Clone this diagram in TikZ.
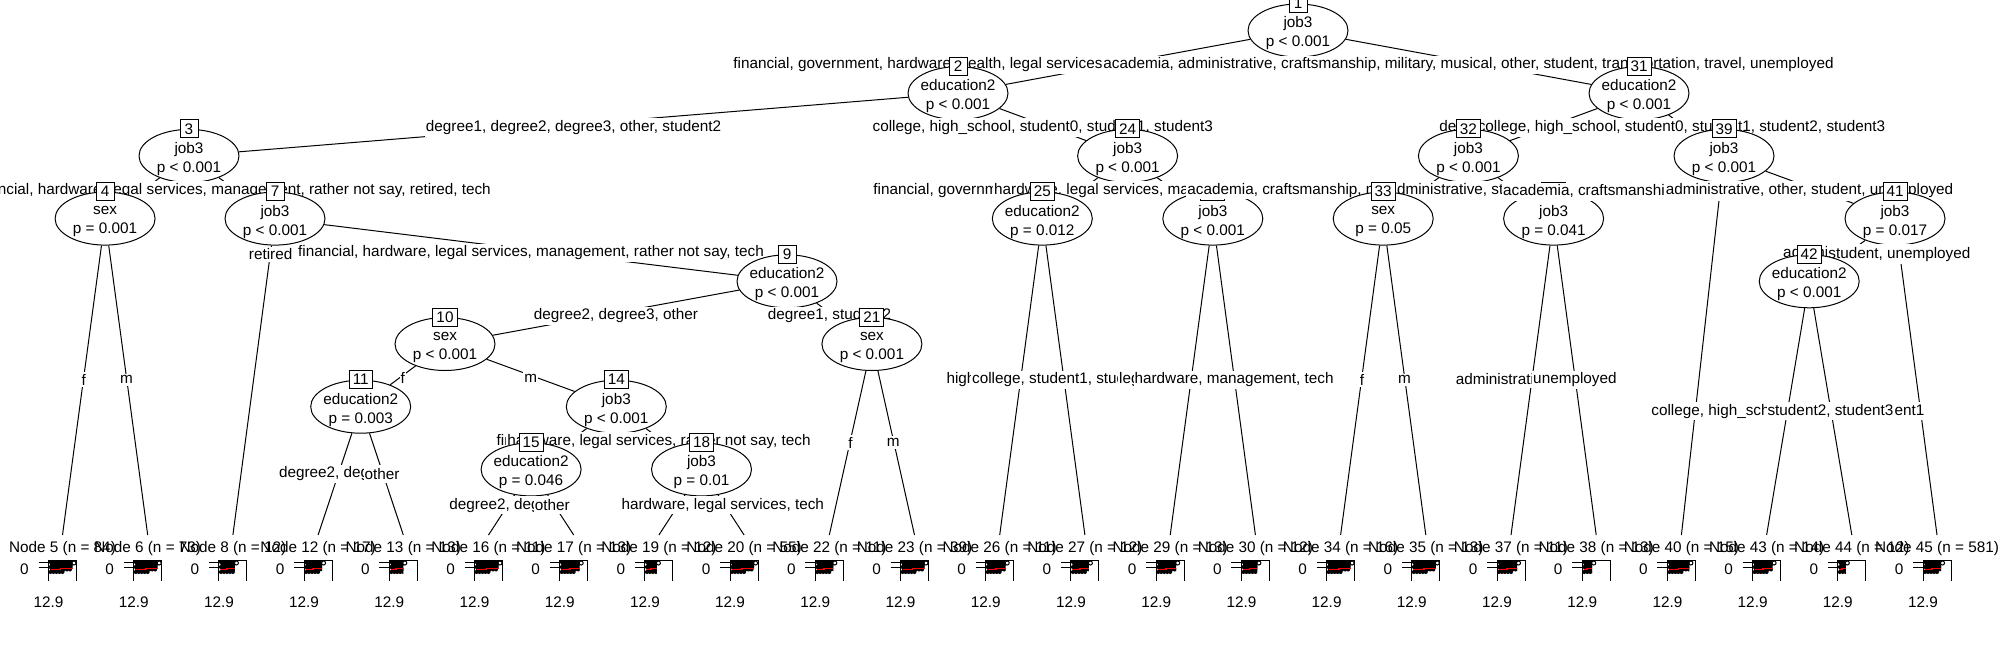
\documentclass[tikz,border=0pt]{standalone}
\usepackage{fontspec}
\setmainfont{Liberation Sans}
\usetikzlibrary{shapes.geometric}
\pgfdeclarelayer{background}
\pgfsetlayers{background,main}
\newcommand{\rfont}{\fontsize{7.65}{9.5}\selectfont}

% inner node: ellipse, two text lines, id box on top
\newcommand{\splitnode}[5]{%
  \node[splitell] (#1) at (#2) {};
  \node[splittxt] (#1t) at (#2) {#4\\#5};
  \node[idbox] (#1id) at (#1.north) {#3};
}
% terminal node: title, small scatter panel, axis labels
\newcommand{\leafnode}[4]{%
  \coordinate (t#1) at (#2,535);
  \node[leaftitle] (leaf#1) at (#2,549) {Node #1 (n = #3)};
  \draw[panel] ({#2-14},581) -- ({#2-14},560) -- ({#2+14},560) -- ({#2+14},581);
  \draw[panel] ({#2-24},562) -- ({#2-14},562) ({#2-24},567) -- ({#2-14},567);
  \node[leaftitle] (ya#1) at ({#2-38},569) {0};
  \node[leaftitle] (xa#1) at ({#2-14},602) {12.9};
  \begin{scope}[shift={({#2-14},560)}]
    \begin{scope}
      \clip (0,0) rectangle (#4,15);
      \foreach \px/\py in {2/2,5/2,8/2,11/2,14/2,17/2,20/2,23/2,26/2,
                           3.5/4.5,6.5/4.5,9.5/4.5,12.5/4.5,15.5/4.5,18.5/4.5,21.5/4.5,24.5/4.5,
                           2/7,5/7,8/7,11/7,14/7,17/7,20/7,23/7,26/7,
                           3.5/9.5,6.5/9.5,9.5/9.5,12.5/9.5,15.5/9.5,18.5/9.5,21.5/9.5,
                           2/12,5/12,8/12,11/12,14/12}
        \fill (\px,\py) circle[radius=2];
    \end{scope}
    \draw[panel, fill=white] ({#4+1.5},3) circle[radius=2];
    \draw[fitline] (2,9.5) -- ({#4/2},9.5) -- ({#4/2},8.5) -- (#4,8.5);
  \end{scope}
}

\begin{document}
\begin{tikzpicture}[
    x=0.5pt, y=-0.5pt,
    font=\rfont,
    conn/.style={line width=0.5pt},
    panel/.style={line width=0.5pt},
    fitline/.style={red, line width=0.9pt},
    splitell/.style={ellipse, draw, fill=white, line width=0.5pt, minimum width=50pt, minimum height=26.5pt, inner sep=0pt},
    splittxt/.style={align=center, inner sep=0pt, yshift=-1.5pt},
    idbox/.style={draw, fill=white, line width=0.5pt, inner xsep=1.75pt, inner ysep=0pt, minimum height=9pt, minimum width=9pt},
    elab/.style={fill=white, inner xsep=0.5pt, inner ysep=1pt, yshift=-1.5pt},
    leaftitle/.style={inner sep=0pt}
]
\useasboundingbox (0,0) rectangle (2000,649);

% centres of the inner nodes
\coordinate (c1) at (1298,30.5);
\coordinate (c2) at (958,93.2);
\coordinate (c31) at (1639,93.2);
\coordinate (c3) at (189,155.9);
\coordinate (c24) at (1127.6,155.9);
\coordinate (c32) at (1468.4,155.9);
\coordinate (c39) at (1724,155.9);
\coordinate (c4) at (105.1,218.6);
\coordinate (c7) at (275,218.6);
\coordinate (c25) at (1042.3,218.6);
\coordinate (c28) at (1212.8,218.6);
\coordinate (c33) at (1383.2,218.6);
\coordinate (c36) at (1553.6,218.6);
\coordinate (c41) at (1895,218.6);
\coordinate (c9) at (787,281.3);
\coordinate (c42) at (1809.2,281.3);
\coordinate (c10) at (445,344);
\coordinate (c21) at (871.9,344);
\coordinate (c11) at (360.7,406.7);
\coordinate (c14) at (616.3,406.7);
\coordinate (c15) at (531.1,469.4);
\coordinate (c18) at (701.5,469.4);

% terminal nodes
\leafnode{5}{62.5}{84}{24}
\leafnode{6}{147.7}{73}{24}
\leafnode{8}{232.9}{12}{16}
\leafnode{12}{318.1}{17}{18}
\leafnode{13}{403.3}{13}{14}
\leafnode{16}{488.5}{11}{24}
\leafnode{17}{573.7}{13}{20}
\leafnode{19}{658.9}{12}{12}
\leafnode{20}{744.1}{55}{24}
\leafnode{22}{829.3}{11}{18}
\leafnode{23}{914.5}{39}{24}
\leafnode{26}{999.7}{11}{20}
\leafnode{27}{1084.9}{12}{18}
\leafnode{29}{1170.2}{13}{20}
\leafnode{30}{1255.4}{12}{16}
\leafnode{34}{1340.6}{16}{24}
\leafnode{35}{1425.8}{13}{24}
\leafnode{37}{1511}{11}{20}
\leafnode{38}{1596.2}{13}{10}
\leafnode{40}{1681.4}{15}{22}
\leafnode{43}{1766.6}{14}{20}
\leafnode{44}{1851.8}{12}{8}
\leafnode{45}{1937}{581}{18}

% node 1
\splitnode{n1}{c1}{1}{job3}{p < 0.001}
\node[elab, anchor=west] (e2) at (732,61.9) {financial, government, hardware, health, legal services, management, rather not say, retired, tech};
\path (c1) -- (c31) node[elab, midway] (e31) {academia, administrative, craftsmanship, military, musical, other, student, transportation, travel, unemployed};

% node 2
\splitnode{n2}{c2}{2}{education2}{p < 0.001}
\path (c2) -- (c3) node[elab, midway] (e3) {degree1, degree2, degree3, other, student2};
\path (c2) -- (c24) node[elab, midway] (e24) {college, high\_school, student0, student1, student3};

% node 3
\splitnode{n3}{c3}{3}{job3}{p < 0.001}
\path (c3) -- (c7) node[elab, midway] (e7) {financial, hardware, legal services, management, rather not say, retired, tech};

\splitnode{n4}{c4}{4}{sex}{p = 0.001}
\path (c4) -- (t5) node[elab, midway] (e5) {f};
\path (c4) -- (t6) node[elab, midway] (e6) {m};

\splitnode{n7}{c7}{7}{job3}{p < 0.001}
\path (c7) -- (t8) node[elab, pos=0.104] (e8) {retired};
\path (c7) -- (c9) node[elab, midway] (e9) {financial, hardware, legal services, management, rather not say, tech};

\splitnode{n9}{c9}{9}{education2}{p < 0.001}
\path (c9) -- (c10) node[elab, midway] (e10) {degree2, degree3, other};
\path (c9) -- (c21) node[elab, midway] (e21) {degree1, student2};

\splitnode{n10}{c10}{10}{sex}{p < 0.001}
\path (c10) -- (c11) node[elab, midway] (e11) {f};
\path (c10) -- (c14) node[elab, midway] (e14) {m};

\splitnode{n11}{c11}{11}{education2}{p = 0.003}
\path (c11) -- (t12) node[elab, midway] (e12) {degree2, degree3};
\path (c11) -- (t13) node[elab, midway] (e13) {other};

\splitnode{n14}{c14}{14}{job3}{p < 0.001}
\path (c14) -- (c15) node[elab, midway] (e15) {financial, management};
\path (c14) -- (c18) node[elab, midway] (e18) {hardware, legal services, rather not say, tech};

\splitnode{n15}{c15}{15}{education2}{p = 0.046}
\path (c15) -- (t16) node[elab, midway] (e16) {degree2, degree3};
\path (c15) -- (t17) node[elab, midway] (e17) {other};

\splitnode{n18}{c18}{18}{job3}{p = 0.01}
\path (c18) -- (t20) node[elab, midway] (e20) {hardware, legal services, tech};

\splitnode{n21}{c21}{21}{sex}{p < 0.001}
\path (c21) -- (t22) node[elab, midway] (e22) {f};
\path (c21) -- (t23) node[elab, midway] (e23) {m};

% node 24
\splitnode{n24}{c24}{24}{job3}{p < 0.001}
\node[elab, anchor=west] (e25) at (872,187.3) {financial, government, health, rather not say};
\path (c24) -- (c28) node[elab, midway] (e28) {hardware, legal services, management, retired, tech};

\splitnode{n25}{c25}{25}{education2}{p = 0.012}
\path (c25) -- (t26) node[elab, midway] (e26) {high\_school, student0};
\path (c25) -- (t27) node[elab, midway] (e27) {college, student1, student3};

\splitnode{n28}{c28}{28}{job3}{p < 0.001}
\path (c28) -- (t29) node[elab, midway] (e29) {legal services, retired};
\path (c28) -- (t30) node[elab, midway] (e30) {hardware, management, tech};

% node 31
\splitnode{n31}{c31}{31}{education2}{p < 0.001}
\path (c31) -- (c32) node[elab, midway] (e32) {degree1, degree2, degree3, other};
\path (c31) -- (c39) node[elab, midway] (e39) {college, high\_school, student0, student1, student2, student3};

\splitnode{n32}{c32}{32}{job3}{p < 0.001}
\path (c32) -- (c33) node[elab, midway] (e33) {academia, craftsmanship, military, musical, other, transportation, travel};
\path (c32) -- (c36) node[elab, midway] (e36) {administrative, student, unemployed};

\splitnode{n33}{c33}{33}{sex}{p = 0.05}
\path (c33) -- (t34) node[elab, midway] (e34) {f};
\path (c33) -- (t35) node[elab, midway] (e35) {m};

\splitnode{n36}{c36}{36}{job3}{p = 0.041}
\path (c36) -- (t37) node[elab, midway] (e37) {administrative, student};
\path (c36) -- (t38) node[elab, midway] (e38) {unemployed};

\splitnode{n39}{c39}{39}{job3}{p < 0.001}
\path (c39) -- (t40) node[elab, pos=0.087] (e40) {academia, craftsmanship, military, musical, transportation, travel};
\path (c39) -- (c41) node[elab, midway] (e41) {administrative, other, student, unemployed};

\splitnode{n41}{c41}{41}{job3}{p = 0.017}
\path (c41) -- (c42) node[elab, midway] (e42) {administrative, other};
\path (c41) -- (t45) node[elab, pos=0.104] (e45) {student, unemployed};

\splitnode{n42}{c42}{42}{education2}{p < 0.001}
\path (c42) -- (t43) node[elab, midway] (e43) {college, high\_school, student0, student1};
\path (c42) -- (t44) node[elab, midway] (e44) {student2, student3};

% connectors, under everything
\begin{pgfonlayer}{background}
\draw[conn] (n1) -- (n2) (n1) -- (n31);
\draw[conn] (n2) -- (n3) (n2) -- (n24);
\draw[conn] (n3) -- (n4) (n3) -- (n7);
\draw[conn] (n4) -- (t5) (n4) -- (t6);
\draw[conn] (n7) -- (t8) (n7) -- (n9);
\draw[conn] (n9) -- (n10) (n9) -- (n21);
\draw[conn] (n10) -- (n11) (n10) -- (n14);
\draw[conn] (n11) -- (t12) (n11) -- (t13);
\draw[conn] (n14) -- (n15) (n14) -- (n18);
\draw[conn] (n15) -- (t16) (n15) -- (t17);
\draw[conn] (n18) -- (t19) (n18) -- (t20);
\draw[conn] (n21) -- (t22) (n21) -- (t23);
\draw[conn] (n24) -- (n25) (n24) -- (n28);
\draw[conn] (n25) -- (t26) (n25) -- (t27);
\draw[conn] (n28) -- (t29) (n28) -- (t30);
\draw[conn] (n31) -- (n32) (n31) -- (n39);
\draw[conn] (n32) -- (n33) (n32) -- (n36);
\draw[conn] (n33) -- (t34) (n33) -- (t35);
\draw[conn] (n36) -- (t37) (n36) -- (t38);
\draw[conn] (n39) -- (t40) (n39) -- (n41);
\draw[conn] (n41) -- (n42) (n41) -- (t45);
\draw[conn] (n42) -- (t43) (n42) -- (t44);
\end{pgfonlayer}

\end{tikzpicture}
\end{document}
